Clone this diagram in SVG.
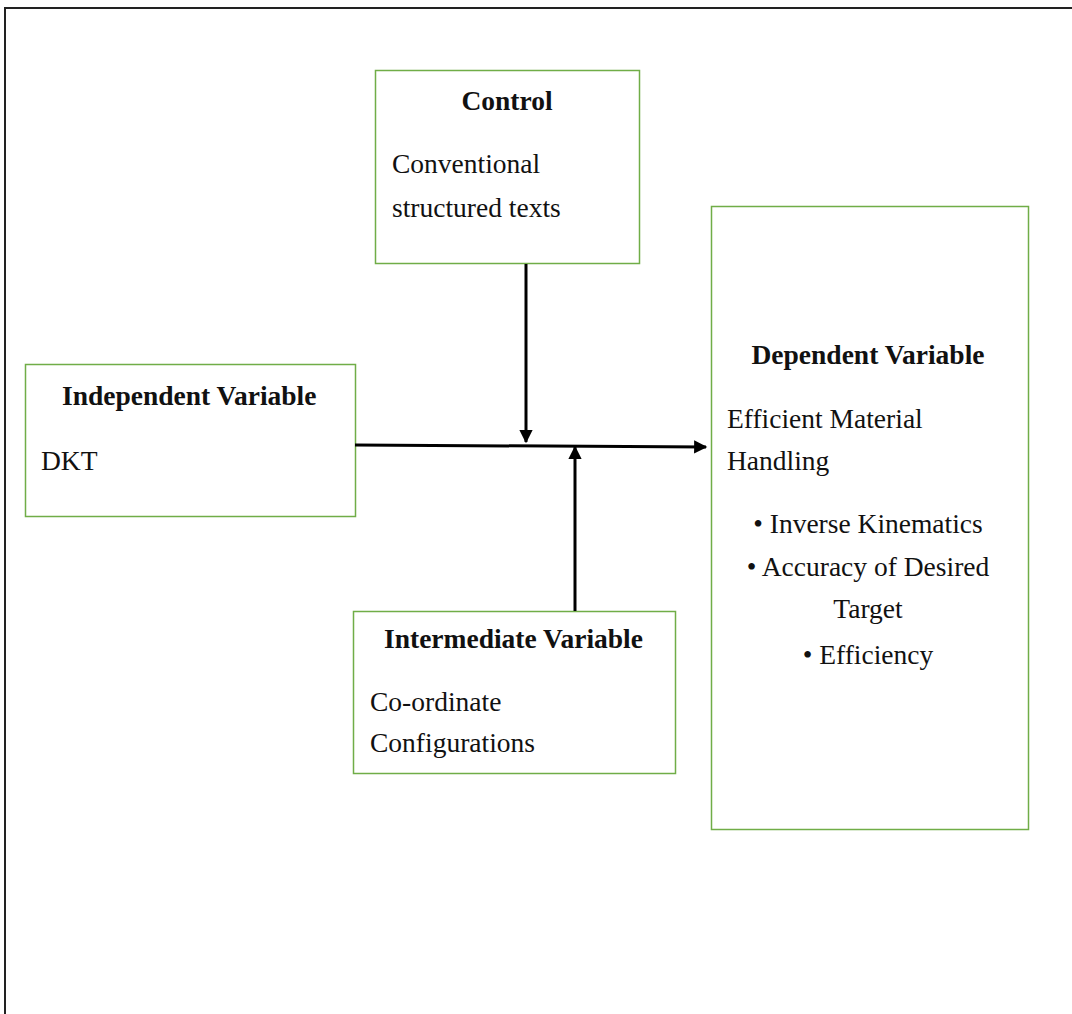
<svg xmlns="http://www.w3.org/2000/svg" width="1072" height="1014" viewBox="0 0 1072 1014">
<defs>
<style>
.box{fill:#fff;stroke:#70ad47;stroke-width:1.5}
.t{font-family:'Liberation Serif','Times New Roman',serif;font-size:27.5px;fill:#111}
.b{font-weight:bold}
.c{text-anchor:middle}
.con{stroke:#000;stroke-width:3;fill:none}
</style>
<marker id="ah" viewBox="0 0 10 10" refX="9" refY="5" markerWidth="4.8" markerHeight="4.4" orient="auto" markerUnits="strokeWidth">
<path d="M0,0 L10,5 L0,10 z" fill="#000"/>
</marker>
</defs>
<rect width="1072" height="1014" fill="#fff"/>
<path d="M5,1014 V8 H1072" fill="none" stroke="#222" stroke-width="2"/>
<g id="control">
<rect class="box" x="375.5" y="70.5" width="264" height="193"/>
<text class="t b c" x="507" y="110">Control</text>
<text class="t" x="392" y="173">Conventional</text>
<text class="t" x="392" y="217">structured texts</text>
</g>
<g id="independent">
<rect class="box" x="25.5" y="364.5" width="330" height="152"/>
<text class="t b" x="62" y="405">Independent Variable</text>
<text class="t" x="41" y="470">DKT</text>
</g>
<g id="dependent">
<rect class="box" x="711.5" y="206.5" width="317" height="623"/>
<text class="t b c" x="868" y="364">Dependent Variable</text>
<text class="t" x="727" y="428">Efficient Material</text>
<text class="t" x="727" y="470">Handling</text>
<text class="t c" x="868" y="533">• Inverse Kinematics</text>
<text class="t c" x="868" y="576">• Accuracy of Desired</text>
<text class="t c" x="868" y="618">Target</text>
<text class="t c" x="868" y="664">• Efficiency</text>
</g>
<g id="intermediate">
<rect class="box" x="353.5" y="611.5" width="322" height="162"/>
<text class="t b" x="384" y="648">Intermediate Variable</text>
<text class="t" x="370" y="711">Co-ordinate</text>
<text class="t" x="370" y="752">Configurations</text>
</g>
<g id="connectors">
<line class="con" x1="355" y1="445" x2="706" y2="447" marker-end="url(#ah)"/>
<line class="con" x1="526" y1="264" x2="526" y2="442" marker-end="url(#ah)"/>
<line class="con" x1="575" y1="611" x2="575" y2="447" marker-end="url(#ah)"/>
</g>
</svg>
